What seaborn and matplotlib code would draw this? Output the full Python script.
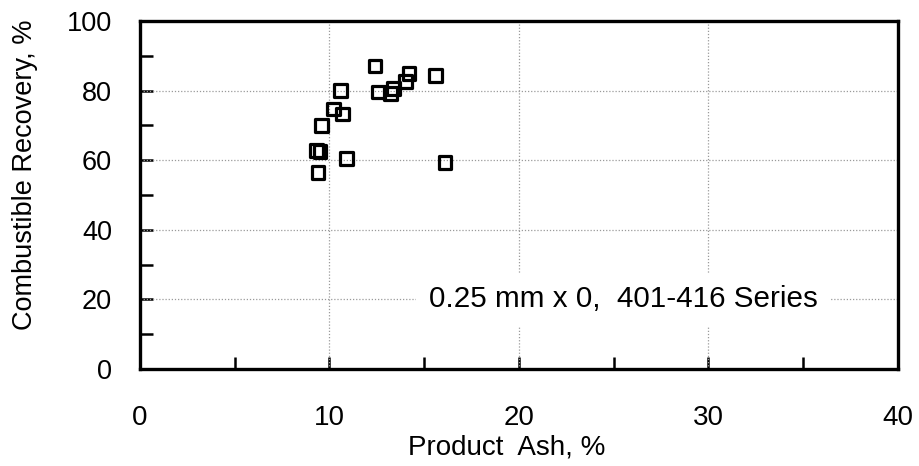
import matplotlib
matplotlib.use("Agg")
import matplotlib.pyplot as plt
from matplotlib.ticker import MultipleLocator
import seaborn as sns
import pandas as pd

# Product ash (%) and combustible recovery (%) for the 401-416 test series
product_ash = [12.4, 14.2, 15.6, 14.0, 13.4, 13.2, 12.6, 10.6,
               10.2, 10.7, 9.6, 9.3, 9.5, 10.9, 9.4, 16.1]
combustible_recovery = [87.1, 85.0, 84.3, 82.6, 80.7, 79.2, 79.6, 80.0,
                        74.7, 73.3, 69.9, 62.9, 62.4, 60.5, 56.5, 59.4]

x_ticks = [0, 10, 20, 30, 40]
y_ticks = [0, 20, 40, 60, 80, 100]
series_note = "0.25 mm x 0,  401-416 Series"

df = pd.DataFrame({"ash": product_ash, "recovery": combustible_recovery})

sns.set_theme(style="white")
plt.rcParams["font.family"] = ["Liberation Sans", "DejaVu Sans"]
plt.rcParams.update({
    "text.color": "black",
    "axes.labelcolor": "black",
    "xtick.color": "black",
    "ytick.color": "black",
    "xtick.bottom": True,
    "ytick.left": True,
})

fig = plt.figure(figsize=(9.19, 4.66), dpi=100)
ax = fig.add_axes([0.1523, 0.2082, 0.8248, 0.7467])

sns.scatterplot(data=df, x="ash", y="recovery", ax=ax, marker="s", s=85,
                facecolor="none", edgecolor="black", linewidth=2.3,
                legend=False, zorder=3)

ax.set_xlim(0, 40)
ax.set_ylim(0, 100)
ax.set_xticks(x_ticks)
ax.set_yticks(y_ticks)
ax.xaxis.set_minor_locator(MultipleLocator(5))
ax.yaxis.set_minor_locator(MultipleLocator(10))

# dotted grid at the interior major ticks
for xv in x_ticks[1:-1]:
    ax.axvline(xv, color="#9a9a9a", linestyle=(0, (1, 1.5)), linewidth=0.9, zorder=1)
for yv in y_ticks[1:-1]:
    ax.axhline(yv, color="#9a9a9a", linestyle=(0, (1, 1.5)), linewidth=0.9, zorder=1)

for sp in ax.spines.values():
    sp.set_visible(True)
    sp.set_color("black")
    sp.set_linewidth(2.4)

ax.tick_params(axis="both", which="both", direction="in", color="black",
               width=1.8, length=9, bottom=True, left=True, top=False, right=False)
ax.tick_params(axis="y", which="major", pad=20, labelsize=19.5)
ax.tick_params(axis="x", which="major", pad=26, labelsize=20)

ax.set_xlabel("Product  Ash, %", fontsize=20)
ax.xaxis.label.set_va("center")
ax.xaxis.set_label_coords(0.484, -0.227)

ax.set_ylabel("Combustible Recovery, %", fontsize=19.5)
ax.yaxis.label.set_va("center")
ax.yaxis.set_label_coords(-0.152, 0.557)

ax.text(25.5, 20, series_note, fontsize=21.3, ha="center", va="center",
        bbox=dict(facecolor="white", edgecolor="none", pad=9), zorder=2)

fig.savefig("out.png", dpi=100)
